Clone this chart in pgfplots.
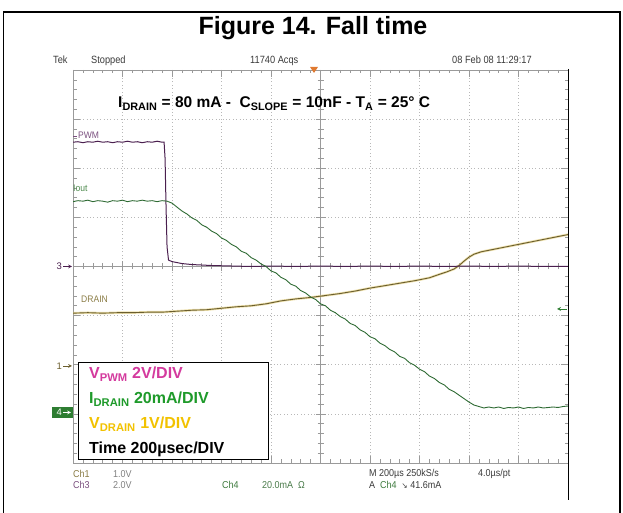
\documentclass[border=0pt]{standalone}
\usepackage{fontspec}
\setmainfont{Liberation Sans}
\newfontfamily\djv{DejaVu Sans}
\usepackage{graphicx}
\usepackage{pgfplots}
\pgfplotsset{compat=1.18}
\definecolor{pwmc}{HTML}{4A1F4E}
\definecolor{ioutc}{HTML}{2E6A33}
\definecolor{drainc}{HTML}{6B5E2E}
\definecolor{drainhalo}{HTML}{E6D48A}
\definecolor{gridc}{HTML}{B8B8B8}
\definecolor{edgec}{HTML}{9A9A9A}
\definecolor{scopetxt}{HTML}{3A3A3A}
\definecolor{legpwm}{HTML}{D43A9E}
\definecolor{legidr}{HTML}{1E9A2A}
\definecolor{legvdr}{HTML}{F2C200}
\definecolor{lblpwm}{HTML}{7A4F7E}
\definecolor{lbliout}{HTML}{4D8A4D}
\definecolor{lbldrain}{HTML}{8A7C45}
\definecolor{chgreen}{HTML}{3D7A3D}
\definecolor{boxgreen}{HTML}{2E7D32}
\definecolor{trig}{HTML}{E07A30}

\pgfplotstableread{
x y
0 -0.95
0.3 -0.94
0.6 -0.95
0.9 -0.94
1.2 -0.94
1.5 -0.93
1.8 -0.93
2.1 -0.91
2.4 -0.89
2.7 -0.88
3.0 -0.85
3.3 -0.82
3.6 -0.80
3.9 -0.76
4.2 -0.70
4.5 -0.66
4.8 -0.63
5.1 -0.59
5.4 -0.55
5.7 -0.50
6.0 -0.44
6.3 -0.39
6.6 -0.34
6.9 -0.29
7.2 -0.23
7.4 -0.16
7.55 -0.11
7.7 -0.05
7.8 0.02
7.9 0.11
8.0 0.19
8.1 0.25
8.25 0.30
8.5 0.35
8.75 0.40
9.0 0.45
9.25 0.50
9.5 0.55
9.75 0.60
10 0.65
}\draintable

\pgfplotstableread{
x y
0 2.53
0.1 2.54
0.2 2.52
0.3 2.54
0.4 2.53
0.5 2.55
0.6 2.53
0.7 2.54
0.8 2.52
0.9 2.54
1.0 2.53
1.1 2.55
1.2 2.53
1.3 2.54
1.4 2.52
1.5 2.54
1.6 2.53
1.7 2.55
1.8 2.53
1.84 2.53
1.86 2.20
1.88 1.20
1.90 0.40
1.93 0.13
2.0 0.10
2.2 0.06
2.4 0.04
2.8 0.02
3.2 0.01
3.6 0.00
4.0 0.01
4.5 0.00
5.0 0.01
5.5 0.00
6.0 0.01
6.5 0.00
7.0 0.01
7.5 0.00
8.0 0.01
8.5 0.00
9.0 0.01
9.5 0.00
10 0.00
}\pwmtable

\pgfplotstableread{
x y
0 1.32
0.1 1.34
0.2 1.33
0.3 1.35
0.4 1.32
0.5 1.34
0.6 1.33
0.7 1.31
0.8 1.34
0.9 1.33
1.0 1.35
1.1 1.32
1.2 1.34
1.3 1.33
1.4 1.35
1.5 1.33
1.6 1.34
1.7 1.32
1.8 1.34
1.9 1.33
2.0 1.29
2.1 1.21
2.2 1.13
2.3 1.07
2.4 0.99
2.5 0.94
2.6 0.85
2.7 0.80
2.8 0.72
2.9 0.67
3.0 0.58
3.1 0.53
3.2 0.45
3.3 0.40
3.4 0.31
3.5 0.27
3.6 0.18
3.7 0.13
3.8 0.05
3.9 0.00
4.0 -0.09
4.1 -0.13
4.2 -0.22
4.3 -0.27
4.4 -0.36
4.5 -0.40
4.6 -0.49
4.7 -0.54
4.8 -0.62
4.9 -0.67
5.0 -0.76
5.1 -0.80
5.2 -0.89
5.3 -0.94
5.4 -1.02
5.5 -1.07
5.6 -1.16
5.7 -1.20
5.8 -1.29
5.9 -1.34
6.0 -1.43
6.1 -1.47
6.2 -1.56
6.3 -1.61
6.4 -1.69
6.5 -1.74
6.6 -1.83
6.7 -1.87
6.8 -1.96
6.9 -2.01
7.0 -2.09
7.1 -2.14
7.2 -2.23
7.3 -2.28
7.4 -2.36
7.5 -2.41
7.6 -2.50
7.7 -2.55
7.8 -2.62
7.9 -2.69
8.0 -2.76
8.1 -2.82
8.2 -2.85
8.3 -2.88
8.4 -2.86
8.5 -2.88
8.6 -2.86
8.7 -2.89
8.8 -2.87
8.9 -2.88
9.0 -2.86
9.1 -2.89
9.2 -2.87
9.3 -2.88
9.4 -2.86
9.5 -2.88
9.6 -2.87
9.7 -2.86
9.8 -2.87
9.9 -2.85
10.0 -2.84
}\iouttable

\begin{document}
\begin{tikzpicture}
\begin{scope}[x=1pt,y=1pt]
\useasboundingbox (0,0) rectangle (623,513);
% outer frame
\draw[line width=1.6pt] (3.5,0) -- (3.5,501) -- (620,501) -- (620,0);
% title
\node[anchor=base, font=\fontsize{25}{28}\selectfont\bfseries, inner sep=0] at (313,478) {Figure 14. Fall time};

% scope header
\begin{scope}[every node/.style={anchor=base west, inner sep=0, text=scopetxt, font=\fontsize{10.5}{12}\selectfont}]
\node at (53,449) {\scalebox{0.88}[1]{Tek}};
\node at (91,449) {\scalebox{0.88}[1]{Stopped}};
\node at (250,449) {\scalebox{0.88}[1]{11740 Acqs}};
\node at (452,449) {\scalebox{0.88}[1]{08 Feb 08 11:29:17}};
\end{scope}

% dotted grid
\foreach \i in {1,...,9}
  \draw[gridc, line width=0.7pt, dash pattern=on 0.8pt off 2.6pt] ({73+49.5*\i},50) -- ({73+49.5*\i},443);
\foreach \j in {1,...,7}
  \draw[gridc, line width=0.7pt, dash pattern=on 0.8pt off 2.6pt] (73,{50+49.125*\j}) -- (568,{50+49.125*\j});
% border
\draw[edgec, line width=0.6pt] (568,443) -- (73,443) -- (73,50) -- (568,50);
% border ticks
\foreach \k in {0,...,50} {
  \draw[edgec, line width=0.6pt] ({73+9.9*\k},443) -- ++(0,-3.5);
  \draw[edgec, line width=0.6pt] ({73+9.9*\k},50) -- ++(0,3.5);
  \draw[edgec, line width=0.6pt] ({73+9.9*\k},243.5) -- ++(0,6);
}
\foreach \i in {0,...,10} {
  \draw[edgec, line width=0.6pt] ({73+49.5*\i},443) -- ++(0,-7);
  \draw[edgec, line width=0.6pt] ({73+49.5*\i},50) -- ++(0,7);
  \draw[edgec, line width=0.6pt] ({73+49.5*\i},241.5) -- ++(0,10);
}
\foreach \k in {0,...,40} {
  \draw[edgec, line width=0.6pt] (73,{50+9.825*\k}) -- ++(3.5,0);
  \draw[edgec, line width=0.6pt] (568,{50+9.825*\k}) -- ++(-3.5,0);
  \draw[edgec, line width=0.6pt] (317.5,{50+9.825*\k}) -- ++(6,0);
}
\foreach \j in {0,...,8} {
  \draw[edgec, line width=0.6pt] (73,{50+49.125*\j}) -- ++(7,0);
  \draw[edgec, line width=0.6pt] (568,{50+49.125*\j}) -- ++(-7,0);
  \draw[edgec, line width=0.6pt] (315.5,{50+49.125*\j}) -- ++(10,0);
}
% centre lines
\draw[edgec, line width=0.6pt] (320.5,50) -- (320.5,443);
\draw[edgec, line width=0.6pt] (73,246.5) -- (568,246.5);

% trigger marker
\fill[trig] (310,446) -- (318,446) -- (314,440) -- cycle;
\end{scope}

% traces
\begin{axis}[at={(73pt,50pt)}, anchor=south west, width=495pt, height=393pt,
  scale only axis, xmin=0, xmax=10, ymin=-4, ymax=4, axis lines=none]
\addplot[drainhalo, line width=2.4pt, opacity=0.7] table[x=x,y=y] {\draintable};
\addplot[drainc, line width=0.9pt] table[x=x,y=y] {\draintable};
\addplot[pwmc, line width=1pt] table[x=x,y=y] {\pwmtable};
\addplot[ioutc, line width=0.9pt] table[x=x,y=y] {\iouttable};
\end{axis}

\begin{scope}[x=1pt,y=1pt]
% right edge of scope screenshot
\draw[line width=1.8pt] (568.5,444) -- (568.5,13);

% annotation
\node[anchor=base west, inner sep=0, font=\fontsize{15.5}{18}\selectfont\bfseries] at (118,405)
  {I\textsubscript{DRAIN} = 80 mA -\ \ C\textsubscript{SLOPE} = 10nF - T\textsubscript{A} = 25° C};

% trace labels
\node[anchor=base west, inner sep=0, text=lblpwm, font=\fontsize{9.5}{11}\selectfont] at (78,374) {\scalebox{0.9}[1]{PWM}};
\draw[lblpwm, line width=0.6pt] (73,377) -- (77,377);
\node[anchor=base west, inner sep=0, text=lbliout, font=\fontsize{9.5}{11}\selectfont] at (73,321) {\scalebox{0.9}[1]{Iout}};
\node[anchor=base west, inner sep=0, text=lbldrain, font=\fontsize{9.5}{11}\selectfont] at (81,210) {\scalebox{0.9}[1]{DRAIN}};

% level markers
\node[anchor=east, inner sep=0, text=pwmc, font=\fontsize{9.5}{11}\selectfont] at (62,246.5) {3};
\draw[pwmc, line width=0.7pt, ->, >=stealth] (63,246.5) -- (72,246.5);
\node[anchor=east, inner sep=0, text=drainc, font=\fontsize{9.5}{11}\selectfont] at (62,147) {1};
\draw[drainc, line width=0.7pt, ->, >=stealth] (63,147) -- (72,147);
\fill[boxgreen] (52,95) rectangle (73,106);
\node[anchor=east, inner sep=0, text=white, font=\fontsize{9.5}{11}\selectfont] at (62,100.5) {4};
\draw[white, line width=0.7pt, ->, >=stealth] (63,100.5) -- (71,100.5);
\draw[boxgreen, line width=0.8pt, ->, >=stealth] (567,204) -- (557,204);

% legend box
\draw[fill=white, line width=1pt] (78,53) rectangle (268,150);
\begin{scope}[every node/.style={anchor=base west, inner sep=0, font=\fontsize{16}{18}\selectfont\bfseries}]
\node[text=legpwm] at (89,134) {V\textsubscript{PWM} 2V/DIV};
\node[text=legidr] at (89,109) {I\textsubscript{DRAIN} 20mA/DIV};
\node[text=legvdr] at (89,84) {V\textsubscript{DRAIN} 1V/DIV};
\node[text=black] at (89,59) {Time 200µsec/DIV};
\end{scope}

% bottom scope text
\begin{scope}[every node/.style={anchor=base west, inner sep=0, font=\fontsize{10}{12}\selectfont}]
\node[text=lbldrain] at (73,35) {\scalebox{0.9}[1]{Ch1}};
\node[text=gray] at (113,35) {\scalebox{0.9}[1]{1.0V}};
\node[text=lblpwm] at (73,24) {\scalebox{0.9}[1]{Ch3}};
\node[text=gray] at (113,24) {\scalebox{0.9}[1]{2.0V}};
\node[text=chgreen] at (222,24) {\scalebox{0.9}[1]{Ch4}};
\node[text=chgreen!80!gray] at (262,24) {\scalebox{0.9}[1]{20.0mA\ \ Ω}};
\node[text=scopetxt] at (369,36) {\scalebox{0.9}[1]{M 200µs 250kS/s}};
\node[text=scopetxt] at (478,36) {\scalebox{0.9}[1]{4.0µs/pt}};
\node[text=scopetxt] at (369,24) {\scalebox{0.9}[1]{A\ \ \textcolor{chgreen}{Ch4}\ \ {\djv\fontsize{8}{10}\selectfont ↘}\ 41.6mA}};
\end{scope}
\end{scope}
\end{tikzpicture}
\end{document}
